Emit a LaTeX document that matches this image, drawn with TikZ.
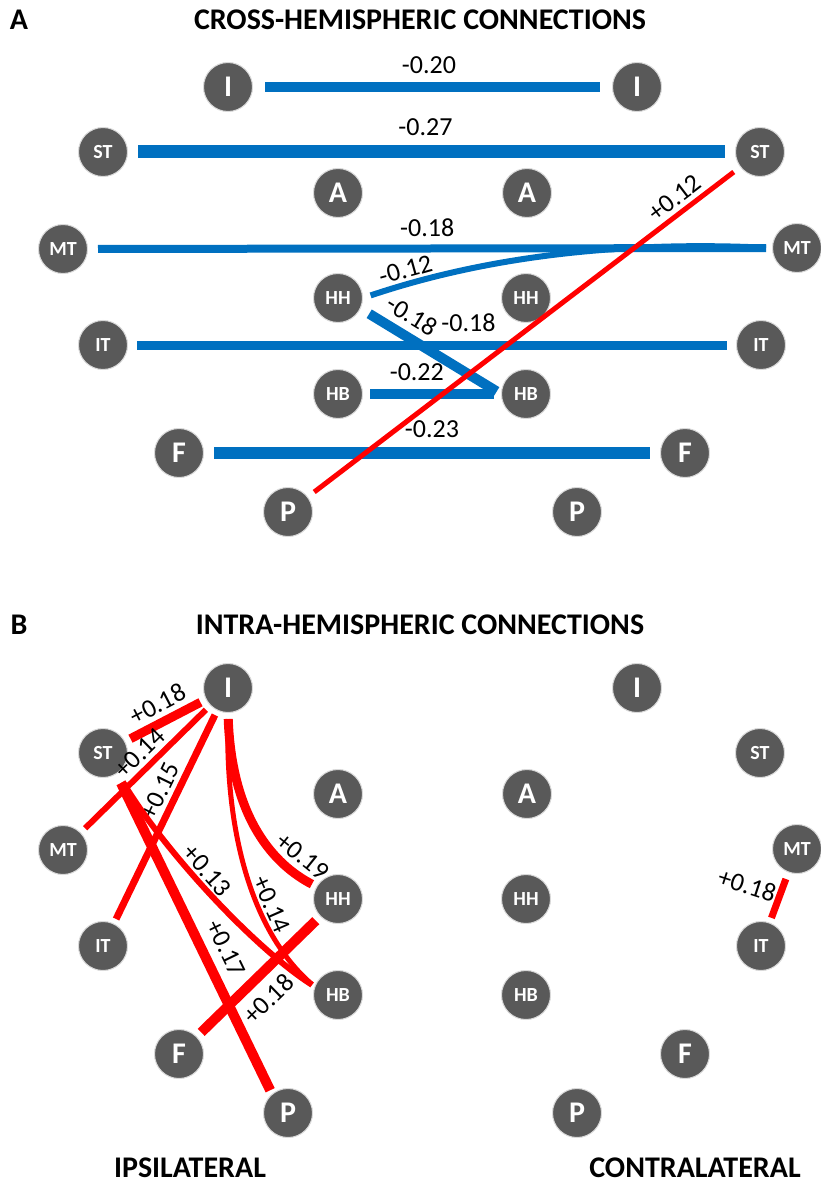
\documentclass[tikz,border=0pt]{standalone}
\usepackage{fontspec}
\setmainfont{Carlito}
\usepackage{xcolor}
\usepackage{tikz}
\usetikzlibrary{arrows.meta,shapes,calc}

\definecolor{regiongray}{RGB}{89,89,89}
\definecolor{negblue}{RGB}{0,112,192}
\definecolor{posred}{RGB}{255,0,0}

\begin{document}
\begin{tikzpicture}[x=1pt,y=-1pt]
            \tikzset{vertex/.style = {circle, fill=regiongray, draw=white!85!black, line width=1pt, minimum size=49pt, inner sep=0pt, text=white}}
            \tikzset{neglink/.style = {draw=negblue, line width=#1}}
            \tikzset{poslink/.style = {draw=posred, line width=#1}}
            \tikzset{clearance/.style = {shorten <=#1, shorten >=#1}}
            \tikzset{wfont/.style = {font=\fontsize{26}{26}\selectfont, inner sep=1pt}}
            \tikzset{weight/.style = {wfont, sloped}}
            \tikzset{heading/.style = {font=\bfseries\fontsize{30}{30}\selectfont, inner sep=0pt}}

            \useasboundingbox (0,0) rectangle (820,1193);

            % headings
            \node[heading] (letterA) at (19,20) {A};
            \node[heading] (titleA) at (420,20) {CROSS-HEMISPHERIC CONNECTIONS};
            \node[heading] (letterB) at (19,625) {B};
            \node[heading] (titleB) at (420,625) {INTRA-HEMISPHERIC CONNECTIONS};
            \node[heading] (ipsi) at (190,1168) {IPSILATERAL};
            \node[heading] (contra) at (695,1168) {CONTRALATERAL};

            % vertices
            \foreach \p/\dy in {a/0,b/601}
            {
              % left hemisphere
              \foreach \n/\x/\y/\s in {I/228/87/30, ST/103/152/20, A/338/193/30, MT/63/249/20, HH/338/298/20, IT/103/345/20, HB/338/394/20, F/179/453/30, P/288/512/30}
              {
                \node[vertex, font=\bfseries\fontsize{\s}{\s}\selectfont] (\p\n-L) at (\x,\y+\dy) {\n};
              }
              % right hemisphere
              \foreach \n/\x/\y/\s in {I/637/87/30, ST/760/152/20, A/527/193/30, MT/797/248/20, HH/526/298/20, IT/761/345/20, HB/526/394/20, F/685/453/30, P/577/512/30}
              {
                \node[vertex, font=\bfseries\fontsize{\s}{\s}\selectfont] (\p\n-R) at (\x,\y+\dy) {\n};
              }
            }

            % cross-hemispheric edges
            \draw[neglink=10, clearance=12] (aI-L) to node[weight, above=7pt, pos=0.49] {-0.20} (aI-R);
            \draw[neglink=13, clearance=10] (aST-L) to node[weight, above=9pt, pos=0.49] {-0.27} (aST-R);
            \draw[neglink=8, shorten <=10, shorten >=6] (aMT-L) to node[weight, above=7pt, pos=0.496] {-0.18} (aMT-R);
            \draw[neglink=6, shorten <=8, shorten >=6] (aHH-L.east) .. controls (470,262) and (600,240) .. (aMT-R.west) node[weight, above=2pt, pos=0.14] {-0.12};
            \draw[neglink=10, shorten <=10, shorten >=5] (aHH-L.-25) to node[weight, above=6pt, pos=0.29] {-0.18} (aHB-R.west);
            \draw[neglink=9, clearance=9] (aIT-L) to node[weight, above=8pt, pos=0.56] {-0.18} (aIT-R);
            \draw[neglink=10, clearance=7] (aHB-L) to node[weight, above=7pt, pos=0.39] {-0.22} (aHB-R);
            \draw[neglink=12, clearance=10] (aF-L) to node[weight, above=8pt, pos=0.5] {-0.23} (aF-R);
            \draw[poslink=5, clearance=8] (aP-L) to node[weight, above=3pt, pos=0.87] {+0.12} (aST-R);

            % intra-hemispheric edges, ipsilateral
            \draw[poslink=9, clearance=6] (bI-L) to node[weight, above=4pt, pos=0.49] {+0.18} (bST-L);
            \draw[poslink=6, clearance=6] (bI-L) to node[weight, above=3pt, pos=0.46] {+0.14} (bMT-L);
            \draw[poslink=7, clearance=5] (bI-L) to node[weight, above=3pt, pos=0.41] {+0.15} (bIT-L);
            \draw[poslink=9, shorten <=6, shorten >=5] (bI-L.south) .. controls (232,820) and (275,865) .. (bHH-L.150) node[weight, above=4pt, pos=0.8] {+0.19};
            \draw[poslink=5, shorten <=6, shorten >=3] (bI-L.south) .. controls (225,850) and (260,940) .. (bHB-L.160) node[weight, above=1pt, pos=0.6] {+0.14};
            \draw[poslink=6, shorten <=10, shorten >=3] (bST-L.-54) .. controls (160,845) and (250,945) .. (bHB-L.160) node[weight, above=1pt, pos=0.45] {+0.13};
            \draw[poslink=10, shorten <=10, shorten >=4] (bST-L.-57) to node[weight, above=8pt, pos=0.575] {+0.17} (bP-L.130);
            \draw[poslink=10, clearance=6] (bF-L) to node[weight, below=8pt, pos=0.45] {+0.18} (bHH-L);

            % intra-hemispheric edges, contralateral
            \draw[poslink=7, shorten <=7, shorten >=5] (bMT-R) to node[wfont, rotate=-18, anchor=east, pos=0.47] {+0.18} (bIT-R);

\end{tikzpicture}
\end{document}
